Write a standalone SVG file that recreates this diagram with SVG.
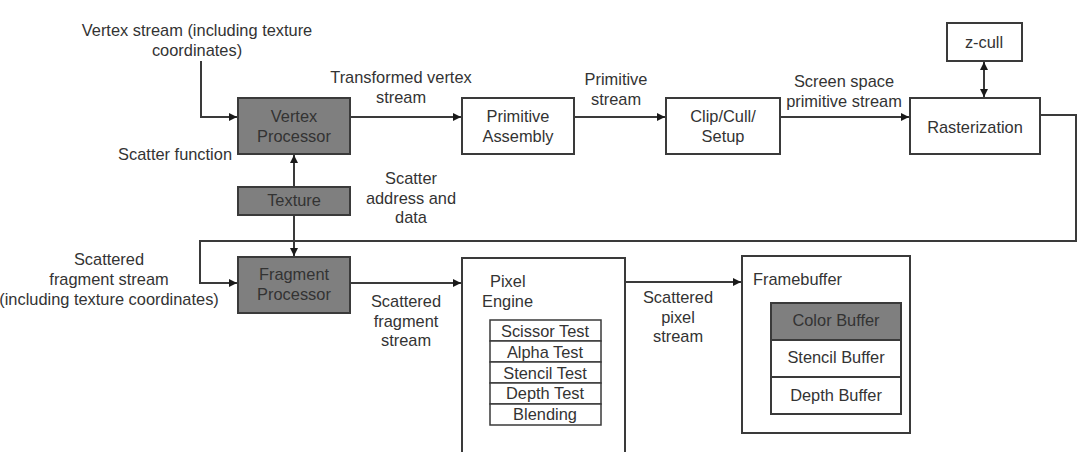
<svg xmlns="http://www.w3.org/2000/svg" width="1087" height="452" viewBox="0 0 1087 452">
<style>
text{font-family:"Liberation Sans",Arial,sans-serif;font-size:16.4px;fill:#333;text-anchor:middle}
.l{text-anchor:start}
.r{text-anchor:end}
.box{fill:#fff;stroke:#3a3a3a;stroke-width:2}
.dark{fill:#7f7f7f;stroke:#3a3a3a;stroke-width:2}
.thin{fill:#fff;stroke:#3a3a3a;stroke-width:1.5}
.c{fill:none;stroke:#3a3a3a;stroke-width:2}
.d{fill:none;stroke:#3a3a3a;stroke-width:1;stroke-dasharray:2 2}
</style>
<defs>
<marker id="a" viewBox="0 0 8 8" refX="8" refY="4" markerWidth="8" markerHeight="8" markerUnits="userSpaceOnUse" orient="auto-start-reverse"><path d="M0,0L8,4L0,8z" fill="#1a1a1a"/></marker>
</defs>
<rect width="1087" height="452" fill="#fff"/>
<g id="connectors">
<path class="c" d="M201,61V117H237" marker-end="url(#a)"/>
<path class="c" d="M350,117H461" marker-end="url(#a)"/>
<path class="c" d="M574,117H665" marker-end="url(#a)"/>
<path class="c" d="M780,117H909" marker-end="url(#a)"/>
<path class="c" d="M984,62V97" marker-start="url(#a)" marker-end="url(#a)"/>
<path class="c" d="M1040,115H1076V241H200V283H237" marker-end="url(#a)"/>
<path class="c" d="M294,187V155" marker-end="url(#a)"/>
<path class="c" d="M294,215V256" marker-end="url(#a)"/>
<path class="c" d="M350,283H461" marker-end="url(#a)"/>
<path class="d" d="M462,283H471V330H489" marker-end="url(#a)"/>
<path class="d" d="M601,415H609V283H623" marker-end="url(#a)"/>
<path class="c" d="M625,282H741" marker-end="url(#a)"/>
</g>
<g id="labels">
<text x="197" y="36">Vertex stream (including texture</text>
<text x="197" y="56">coordinates)</text>
<text x="401" y="83">Transformed vertex</text>
<text x="401" y="103">stream</text>
<text x="616" y="85">Primitive</text>
<text x="616" y="105">stream</text>
<text x="844" y="87">Screen space</text>
<text x="844" y="107">primitive stream</text>
<text class="r" x="232" y="160">Scatter function</text>
<text x="411" y="184">Scatter</text>
<text x="411" y="204">address and</text>
<text x="411" y="223">data</text>
<text x="109" y="265">Scattered</text>
<text x="109" y="285">fragment stream</text>
<text x="109" y="305">(including texture coordinates)</text>
<text x="406" y="307">Scattered</text>
<text x="406" y="327">fragment</text>
<text x="406" y="346">stream</text>
<text x="678" y="303">Scattered</text>
<text x="678" y="323">pixel</text>
<text x="678" y="342">stream</text>
</g>
<g id="vertex-processor"><rect class="dark" x="238" y="98" width="112" height="56"/><text x="294" y="122">Vertex</text><text x="294" y="142">Processor</text></g>
<g id="texture"><rect class="dark" x="238" y="187" width="112" height="28"/><text x="294" y="206">Texture</text></g>
<g id="fragment-processor"><rect class="dark" x="238" y="257" width="112" height="56"/><text x="294" y="280">Fragment</text><text x="294" y="300">Processor</text></g>
<g id="primitive-assembly"><rect class="box" x="462" y="98" width="112" height="56"/><text x="518" y="122">Primitive</text><text x="518" y="142">Assembly</text></g>
<g id="clip-cull-setup"><rect class="box" x="666" y="98" width="114" height="56"/><text x="723" y="122">Clip/Cull/</text><text x="723" y="142">Setup</text></g>
<g id="rasterization"><rect class="box" x="910" y="98" width="130" height="56"/><text x="975" y="133">Rasterization</text></g>
<g id="z-cull"><rect class="box" x="947" y="23" width="75" height="38"/><text x="984" y="48">z-cull</text></g>
<g id="pixel-engine">
<rect class="box" x="462" y="258" width="163" height="200"/>
<text class="l" x="490" y="287">Pixel</text>
<text class="l" x="482" y="307">Engine</text>
<rect class="thin" x="490" y="320" width="111" height="21"/><text x="545" y="337">Scissor Test</text>
<rect class="thin" x="490" y="341" width="111" height="21"/><text x="545" y="358">Alpha Test</text>
<rect class="thin" x="490" y="362" width="111" height="21"/><text x="545" y="379">Stencil Test</text>
<rect class="thin" x="490" y="383" width="111" height="21"/><text x="545" y="399">Depth Test</text>
<rect class="thin" x="490" y="404" width="111" height="21"/><text x="545" y="420">Blending</text>
</g>
<g id="framebuffer">
<rect class="box" x="742" y="256" width="168" height="177"/>
<text class="l" x="753" y="285">Framebuffer</text>
<rect class="dark" x="771" y="303" width="130" height="37"/><text x="836" y="326">Color Buffer</text>
<rect class="box" x="771" y="340" width="130" height="37"/><text x="836" y="363">Stencil Buffer</text>
<rect class="box" x="771" y="377" width="130" height="37"/><text x="836" y="401">Depth Buffer</text>
</g>
</svg>
